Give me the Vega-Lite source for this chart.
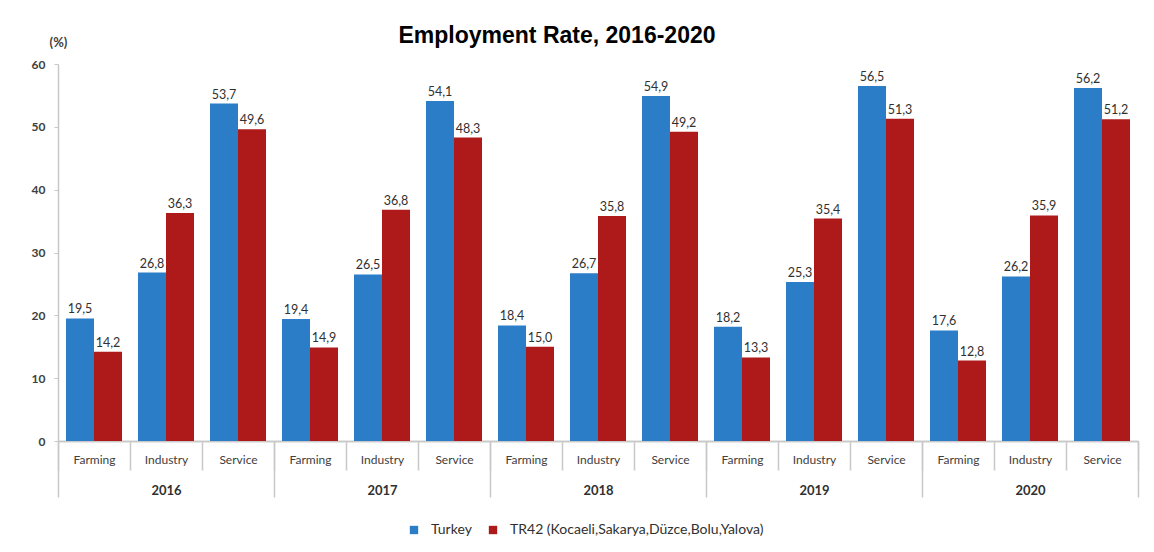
{
  "$schema": "https://vega.github.io/schema/vega-lite/v6.json",
  "autosize": "none",
  "width": 1080,
  "height": 377,
  "padding": {"left": 58, "top": 64, "right": 16, "bottom": 111},
  "background": "white",
  "config": {
    "locale": {"number": {"decimal": ",", "thousands": ".", "grouping": [3], "currency": ["", ""]}},
    "view": {"stroke": null},
    "font": "Lato"
  },
  "title": {
    "text": "Employment Rate, 2016-2020",
    "font": "Liberation Sans",
    "fontSize": 23,
    "fontWeight": "bold",
    "color": "#000000",
    "anchor": "middle",
    "dx": -41,
    "offset": -12
  },
  "data": {
    "values": [
      {"year": "2016", "sector": "Farming", "series": "Turkey", "value": 19.5},
      {"year": "2016", "sector": "Farming", "series": "TR42 (Kocaeli,Sakarya,Düzce,Bolu,Yalova)", "value": 14.2},
      {"year": "2016", "sector": "Industry", "series": "Turkey", "value": 26.8},
      {"year": "2016", "sector": "Industry", "series": "TR42 (Kocaeli,Sakarya,Düzce,Bolu,Yalova)", "value": 36.3},
      {"year": "2016", "sector": "Service", "series": "Turkey", "value": 53.7},
      {"year": "2016", "sector": "Service", "series": "TR42 (Kocaeli,Sakarya,Düzce,Bolu,Yalova)", "value": 49.6},
      {"year": "2017", "sector": "Farming", "series": "Turkey", "value": 19.4},
      {"year": "2017", "sector": "Farming", "series": "TR42 (Kocaeli,Sakarya,Düzce,Bolu,Yalova)", "value": 14.9},
      {"year": "2017", "sector": "Industry", "series": "Turkey", "value": 26.5},
      {"year": "2017", "sector": "Industry", "series": "TR42 (Kocaeli,Sakarya,Düzce,Bolu,Yalova)", "value": 36.8},
      {"year": "2017", "sector": "Service", "series": "Turkey", "value": 54.1},
      {"year": "2017", "sector": "Service", "series": "TR42 (Kocaeli,Sakarya,Düzce,Bolu,Yalova)", "value": 48.3},
      {"year": "2018", "sector": "Farming", "series": "Turkey", "value": 18.4},
      {"year": "2018", "sector": "Farming", "series": "TR42 (Kocaeli,Sakarya,Düzce,Bolu,Yalova)", "value": 15.0},
      {"year": "2018", "sector": "Industry", "series": "Turkey", "value": 26.7},
      {"year": "2018", "sector": "Industry", "series": "TR42 (Kocaeli,Sakarya,Düzce,Bolu,Yalova)", "value": 35.8},
      {"year": "2018", "sector": "Service", "series": "Turkey", "value": 54.9},
      {"year": "2018", "sector": "Service", "series": "TR42 (Kocaeli,Sakarya,Düzce,Bolu,Yalova)", "value": 49.2},
      {"year": "2019", "sector": "Farming", "series": "Turkey", "value": 18.2},
      {"year": "2019", "sector": "Farming", "series": "TR42 (Kocaeli,Sakarya,Düzce,Bolu,Yalova)", "value": 13.3},
      {"year": "2019", "sector": "Industry", "series": "Turkey", "value": 25.3},
      {"year": "2019", "sector": "Industry", "series": "TR42 (Kocaeli,Sakarya,Düzce,Bolu,Yalova)", "value": 35.4},
      {"year": "2019", "sector": "Service", "series": "Turkey", "value": 56.5},
      {"year": "2019", "sector": "Service", "series": "TR42 (Kocaeli,Sakarya,Düzce,Bolu,Yalova)", "value": 51.3},
      {"year": "2020", "sector": "Farming", "series": "Turkey", "value": 17.6},
      {"year": "2020", "sector": "Farming", "series": "TR42 (Kocaeli,Sakarya,Düzce,Bolu,Yalova)", "value": 12.8},
      {"year": "2020", "sector": "Industry", "series": "Turkey", "value": 26.2},
      {"year": "2020", "sector": "Industry", "series": "TR42 (Kocaeli,Sakarya,Düzce,Bolu,Yalova)", "value": 35.9},
      {"year": "2020", "sector": "Service", "series": "Turkey", "value": 56.2},
      {"year": "2020", "sector": "Service", "series": "TR42 (Kocaeli,Sakarya,Düzce,Bolu,Yalova)", "value": 51.2}
    ]
  },
  "transform": [{"calculate": "datum.year + '|' + datum.sector", "as": "cat"}],
  "layer": [
    {
      "encoding": {
        "x": {
          "field": "cat",
          "type": "nominal",
          "scale": {"paddingInner": 0, "paddingOuter": 0},
          "axis": {
            "orient": "bottom",
            "title": null,
            "labelExpr": "split(datum.value, '|')[1]",
            "labelAngle": 0,
            "tickBand": "extent",
            "tickSize": 29,
            "tickColor": "#c8c8c8",
            "tickWidth": 1.5,
            "domainColor": "#c8c8c8",
            "domainWidth": 1.5,
            "labelPadding": -16,
            "labelFont": "Lato",
            "labelFontSize": 12,
            "labelColor": "#404040",
            "labelBaseline": "top"
          }
        },
        "xOffset": {
          "field": "series",
          "type": "nominal",
          "sort": ["Turkey", "TR42 (Kocaeli,Sakarya,Düzce,Bolu,Yalova)"],
          "scale": {"paddingInner": 0, "paddingOuter": 0.2857}
        },
        "y": {
          "field": "value",
          "type": "quantitative",
          "scale": {"domain": [0, 60]},
          "axis": {
            "title": "(%)",
            "titleAngle": 0,
            "titleX": 0,
            "titleY": -22,
            "titleAlign": "center",
            "titleBaseline": "middle",
            "titleFont": "Lato",
            "titleFontSize": 13,
            "titleFontWeight": "bold",
            "titleColor": "#404040",
            "values": [0, 10, 20, 30, 40, 50, 60],
            "grid": false,
            "tickSize": 4,
            "tickColor": "#c8c8c8",
            "domainColor": "#c8c8c8",
            "domainWidth": 1.5,
            "labelPadding": 9,
            "labelFont": "Lato",
            "labelFontSize": 12,
            "labelFontWeight": "bold",
            "labelColor": "#404040"
          }
        }
      },
      "layer": [
        {
          "mark": {"type": "bar"},
          "encoding": {
            "color": {
              "field": "series",
              "type": "nominal",
              "scale": {
                "domain": ["Turkey", "TR42 (Kocaeli,Sakarya,Düzce,Bolu,Yalova)"],
                "range": ["#2A7DC6", "#AE1A1A"]
              },
              "legend": {
                "orient": "none",
                "legendX": 349,
                "legendY": 459,
                "direction": "horizontal",
                "title": null,
                "symbolType": "square",
                "symbolSize": 70,
                "labelFont": "Lato",
                "labelFontSize": 14,
                "labelColor": "#303030",
                "labelLimit": 0,
                "labelOffset": 10,
                "columnPadding": 14
              }
            }
          }
        },
        {
          "mark": {"type": "text", "dy": -9, "font": "Lato", "fontSize": 12.5, "color": "#303030"},
          "encoding": {
            "text": {"field": "value", "type": "quantitative", "format": ".1f"}
          }
        }
      ]
    },
    {
      "mark": {"type": "point", "opacity": 0},
      "encoding": {
        "x": {
          "field": "year",
          "type": "ordinal",
          "scale": {"paddingInner": 0, "paddingOuter": 0},
          "axis": {
            "orient": "bottom",
            "title": null,
            "labelAngle": 0,
            "tickBand": "extent",
            "tickSize": 56,
            "tickColor": "#c8c8c8",
            "tickWidth": 1.5,
            "domainColor": "#c8c8c8",
            "domainWidth": 1.5,
            "labelPadding": -13,
            "labelFont": "Lato",
            "labelFontSize": 13,
            "labelFontWeight": "bold",
            "labelColor": "#303030",
            "labelBaseline": "top"
          }
        },
        "y": {"field": "value", "type": "quantitative"}
      }
    }
  ],
  "resolve": {"scale": {"x": "independent"}, "axis": {"x": "independent"}}
}
